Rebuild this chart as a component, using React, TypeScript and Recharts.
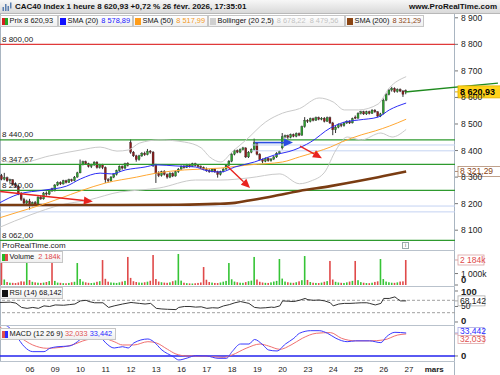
import React from 'react';
import { ComposedChart, Bar, Line, XAxis, YAxis, ReferenceLine } from 'recharts';

const FONT = '"Liberation Sans", Arial, sans-serif';
const BARS_PER_DAY = 9;
const FIRST_BAR = -1;
const X_DOMAIN: [number, number] = [-1.67, 160.4];

// hourly candles [open, high, low, close] - 4 févr. 17h to 26 févr. 17h
const candles: number[][] = [
  [8305, 8312, 8288, 8292],
  // 05
  [8292, 8316, 8288, 8298], [8298, 8302, 8282, 8286], [8286, 8294, 8278, 8290], [8290, 8292, 8268, 8272], [8272, 8280, 8262, 8266],
  [8266, 8270, 8232, 8238], [8238, 8244, 8210, 8216], [8216, 8222, 8196, 8202], [8202, 8215, 8195, 8210],
  // 06
  [8210, 8218, 8178, 8196], [8196, 8208, 8190, 8204], [8204, 8210, 8192, 8198], [8198, 8228, 8195, 8224], [8224, 8230, 8214, 8218],
  [8218, 8244, 8215, 8240], [8240, 8246, 8230, 8236], [8236, 8254, 8232, 8252], [8256, 8260, 8244, 8248],
  // 09
  [8248, 8274, 8246, 8270], [8270, 8284, 8266, 8280], [8280, 8284, 8270, 8274], [8274, 8290, 8272, 8286], [8286, 8290, 8276, 8280],
  [8280, 8294, 8278, 8290], [8290, 8294, 8282, 8286], [8286, 8304, 8284, 8300], [8300, 8320, 8298, 8316],
  // 10
  [8316, 8366, 8314, 8348], [8348, 8362, 8344, 8358], [8358, 8362, 8346, 8350], [8350, 8354, 8336, 8340], [8340, 8350, 8334, 8346],
  [8346, 8360, 8342, 8356], [8356, 8360, 8332, 8336], [8336, 8350, 8332, 8346], [8346, 8350, 8330, 8336],
  // 11
  [8336, 8340, 8278, 8290], [8290, 8296, 8280, 8286], [8286, 8304, 8282, 8300], [8300, 8314, 8296, 8310], [8310, 8328, 8306, 8324],
  [8324, 8344, 8320, 8340], [8340, 8344, 8328, 8334], [8334, 8354, 8330, 8350], [8352, 8356, 8340, 8344],
  // 12
  [8430, 8442, 8388, 8394], [8394, 8398, 8376, 8380], [8380, 8384, 8358, 8366], [8366, 8384, 8362, 8380], [8380, 8394, 8376, 8390],
  [8390, 8396, 8380, 8384], [8384, 8406, 8382, 8398], [8398, 8402, 8388, 8394], [8394, 8398, 8338, 8344],
  // 13
  [8344, 8350, 8278, 8314], [8314, 8322, 8300, 8306], [8306, 8324, 8302, 8320], [8320, 8326, 8306, 8310], [8310, 8314, 8294, 8300],
  [8300, 8318, 8296, 8314], [8314, 8318, 8300, 8304], [8304, 8324, 8302, 8320], [8320, 8334, 8316, 8330],
  // 16
  [8330, 8344, 8328, 8340], [8340, 8346, 8332, 8336], [8336, 8350, 8334, 8346], [8346, 8350, 8336, 8340], [8340, 8354, 8338, 8350],
  [8350, 8354, 8340, 8344], [8344, 8348, 8336, 8340], [8340, 8344, 8332, 8336], [8336, 8340, 8326, 8330],
  // 17
  [8330, 8336, 8320, 8324], [8324, 8330, 8316, 8320], [8320, 8334, 8318, 8330], [8330, 8334, 8316, 8320], [8320, 8324, 8298, 8310],
  [8310, 8324, 8306, 8320], [8320, 8334, 8318, 8330], [8330, 8348, 8328, 8345], [8345, 8364, 8342, 8360],
  // 18
  [8360, 8390, 8356, 8386], [8386, 8404, 8382, 8400], [8400, 8404, 8390, 8394], [8394, 8408, 8390, 8404], [8404, 8414, 8400, 8410],
  [8410, 8412, 8372, 8376], [8376, 8398, 8372, 8394], [8394, 8408, 8390, 8404], [8404, 8445, 8400, 8430],
  // 19
  [8426, 8430, 8382, 8386], [8386, 8390, 8362, 8366], [8366, 8370, 8352, 8360], [8360, 8374, 8356, 8370], [8370, 8374, 8358, 8362],
  [8362, 8372, 8358, 8368], [8368, 8380, 8364, 8376], [8376, 8394, 8372, 8390], [8390, 8400, 8386, 8396],
  // 20
  [8410, 8466, 8404, 8452], [8452, 8460, 8446, 8456], [8456, 8460, 8444, 8450], [8450, 8464, 8446, 8460], [8460, 8464, 8450, 8454],
  [8454, 8468, 8450, 8464], [8464, 8468, 8454, 8458], [8458, 8494, 8456, 8490], [8490, 8526, 8486, 8514],
  // 23
  [8514, 8518, 8504, 8510], [8510, 8524, 8506, 8520], [8520, 8524, 8510, 8514], [8514, 8528, 8512, 8524], [8524, 8528, 8514, 8518],
  [8518, 8526, 8514, 8522], [8522, 8526, 8506, 8510], [8510, 8528, 8508, 8524], [8524, 8528, 8500, 8504],
  // 24
  [8504, 8508, 8458, 8478], [8478, 8492, 8466, 8488], [8488, 8502, 8484, 8498], [8498, 8502, 8488, 8494], [8494, 8508, 8490, 8504],
  [8504, 8514, 8500, 8510], [8510, 8514, 8500, 8504], [8504, 8524, 8502, 8520], [8526, 8532, 8518, 8522],
  // 25
  [8522, 8544, 8520, 8540], [8540, 8550, 8536, 8546], [8546, 8550, 8534, 8538], [8538, 8550, 8534, 8546], [8546, 8550, 8536, 8540],
  [8540, 8556, 8538, 8552], [8552, 8556, 8542, 8546], [8546, 8548, 8526, 8530], [8530, 8542, 8526, 8538],
  // 26
  [8540, 8596, 8536, 8590], [8590, 8616, 8586, 8612], [8612, 8632, 8608, 8628], [8628, 8640, 8622, 8634], [8634, 8638, 8618, 8622],
  [8622, 8634, 8618, 8630], [8630, 8634, 8620, 8624], [8624, 8628, 8602, 8612], [8626, 8630, 8612, 8620.93],
];

// volume in thousands, same bars
const volumes: number[] = [
  2000,
  480, 260, 200, 190, 170, 220, 320, 300, 2000,
  430, 280, 230, 200, 180, 210, 260, 340, 2000,
  360, 210, 190, 160, 150, 180, 240, 280, 1920,
  520, 300, 230, 190, 170, 200, 280, 330, 2180,
  540, 290, 220, 200, 180, 230, 300, 360, 2450,
  620, 330, 260, 220, 200, 240, 290, 370, 2620,
  520, 300, 240, 210, 190, 230, 330, 400, 2710,
  380, 200, 160, 140, 130, 150, 180, 220, 1570,
  460, 260, 210, 180, 170, 220, 290, 360, 1920,
  500, 300, 240, 200, 190, 250, 330, 380, 2450,
  480, 280, 220, 190, 180, 230, 300, 360, 2270,
  560, 300, 240, 200, 190, 240, 320, 420, 2530,
  440, 260, 200, 180, 170, 210, 280, 340, 2100,
  480, 280, 220, 190, 180, 230, 300, 360, 2100,
  420, 250, 200, 170, 160, 200, 270, 320, 2270,
  520, 300, 240, 200, 190, 230, 300, 320, 2184,
];

const dayLabels = ['06', '09', '10', '11', '12', '13', '16', '17', '18', '19', '20', '23', '24', '25', '26', '27', 'mars'];
const priceTicks = [8100, 8200, 8300, 8400, 8500, 8600, 8700, 8800, 8900];

// indicator lines as [bar, value]
const sma20 = [[-2, 8202], [5, 8236], [14, 8251], [22, 8266], [27, 8293], [34, 8315], [38, 8312], [43, 8327], [50, 8338], [54, 8346],
  [61, 8342], [68, 8338], [71, 8327], [77, 8319], [82, 8338], [89, 8357], [96, 8383], [103, 8402], [109, 8432], [116, 8485],
  [121, 8507], [126, 8515], [133, 8526], [137, 8553], [143, 8578.89]];
const sma50 = [[-2, 8146], [5, 8169], [13, 8195], [20, 8221], [27, 8248], [36, 8278], [47, 8300], [54, 8315], [64, 8327], [77, 8334],
  [87, 8346], [99, 8357], [105, 8376], [111, 8395], [116, 8413], [120, 8432], [127, 8459], [132, 8474], [137, 8492], [143, 8517.99]];
const sma200 = [[-2, 8195], [20, 8195], [40, 8195], [62, 8196], [75, 8199], [82, 8203], [87, 8212], [96, 8229], [105, 8248],
  [116, 8266], [126, 8285], [135, 8304], [143, 8321.29]];
const bollUpper = [[-2, 8364], [5, 8353], [16, 8380], [27, 8402], [34, 8413], [40, 8398], [44, 8402], [48, 8428], [55, 8440],
  [64, 8432], [70, 8410], [73, 8376], [77, 8357], [81, 8395], [86, 8440], [93, 8508], [99, 8541], [105, 8558], [112, 8598],
  [117, 8583], [121, 8553], [126, 8553], [133, 8575], [137, 8636], [143, 8678.22]];
const bollLower = [[-2, 8110], [9, 8157], [20, 8195], [30, 8214], [41, 8244], [48, 8251], [55, 8259], [68, 8289], [77, 8289],
  [87, 8297], [98, 8312], [105, 8275], [109, 8285], [114, 8319], [118, 8402], [122, 8451], [127, 8440], [134, 8466], [138, 8451],
  [143, 8479.56]];
const rsi = [[-2, 63], [2, 64], [4, 61], [6, 47], [8, 44], [10, 47], [12, 44], [14, 52], [16, 50], [18, 55], [21, 54], [23, 56],
  [25, 58], [27, 68], [29, 70], [30, 66], [32, 62], [35, 62], [37, 47], [39, 52], [42, 58], [45, 63], [46, 62], [48, 60], [50, 58],
  [52, 60], [54, 44], [56, 42], [58, 41], [61, 40], [62, 47], [64, 50], [66, 50], [68, 48], [70, 49], [72, 44], [74, 46], [76, 45],
  [78, 52], [80, 56], [82, 62], [84, 66], [86, 62], [87, 60], [89, 47], [91, 45], [93, 46], [95, 48], [96, 47], [98, 52], [99, 68],
  [101, 67], [103, 66], [105, 70], [107, 76], [108, 72], [110, 70], [112, 71], [114, 68], [116, 62], [117, 52], [119, 58], [121, 60],
  [123, 60], [125, 61], [127, 62], [129, 62], [130, 60], [132, 55], [134, 60], [135, 76], [137, 76], [139, 81], [140, 74], [141, 68],
  [143, 68.142]];
const macd = [[-2, 48], [2, 40], [4, 30], [7, 13.5], [10, 6.3], [14, 6.3], [16, 11], [19, 13.5], [23, 14.5], [26, 21], [28, 28],
  [31, 34], [34, 28], [36, 19], [39, 11.6], [42, 13.5], [44, 11.6], [46, 19], [51, 24.7], [53, 21], [56, 8.7], [60, -1], [62, -5.8],
  [65, -3], [68, 0.5], [72, 0], [76, -3.4], [79, -3.4], [81, 6.3], [84, 17.4], [87, 17.4], [89, 24], [92, 16], [94, 8.7], [97, 7.3],
  [100, 17.4], [103, 25.7], [105, 33], [109, 36.8], [112, 36.8], [115, 33], [118, 25.7], [122, 20.8], [125, 22], [130, 22],
  [134, 19.4], [136, 28], [139, 34.4], [143, 33.442]];
const macdSignal = [[-2, 42], [5, 28], [10, 16], [15, 11.2], [20, 12.6], [24, 16], [29, 23.3], [33, 25.7], [35, 25.7], [39, 20.8],
  [42, 16], [46, 16], [51, 20.8], [54, 19], [58, 9.7], [61, 2.9], [65, 0], [70, 0], [74, -1], [78, -2], [81, 1.5], [86, 11.2],
  [91, 17.4], [94, 14.5], [98, 9.7], [102, 16], [106, 25.7], [111, 33], [116, 34], [120, 25.7], [125, 22], [130, 22], [135, 23.3],
  [140, 30.5], [143, 32.033]];

// drawn levels and arrows
const greenLevels = [8440, 8347.67, 8250, 8062];
const redLevels = [8800];
const blueLevels = [8191, 8169];
const blueLevelsLate = [8421, 8399];
const redArrows = [
  [[-1.6, 8246], [31.4, 8208]],
  [[79.2, 8342], [87.4, 8259]],
  [[105.2, 8417], [113, 8371]],
];
const blueArrow = [[89.1, 8430], [102.7, 8430]];
const trendLine = [[142.6, 8620.5], [175.7, 8654]];

const fr = (v: number, d = 0) => {
  const [a, b] = v.toFixed(d).split('.');
  const int = a.replace(/\B(?=(\d{3})+(?!\d))/g, ' ');
  return b ? `${int},${b}` : int;
};
const pts = (a: number[][]) => a.map(([i, v]) => ({ i, v }));

const Candle = (p: any) => {
  const { x, y, width, height, payload } = p;
  if (height == null || isNaN(y)) return null;
  const { o, h, l, c } = payload;
  const cx = x + width / 2;
  const span = h - l || 1;
  const yOf = (v: number) => y + ((h - v) / span) * height;
  const top = yOf(Math.max(o, c));
  const bot = yOf(Math.min(o, c));
  const up = c >= o;
  return (
    <g>
      <line x1={cx} x2={cx} y1={y} y2={y + height} stroke="#1a1a1a" strokeWidth={0.9} />
      <rect x={cx - 1} y={top} width={2} height={Math.max(bot - top, 1)} fill={up ? '#2f9e2f' : '#8b1c1c'} stroke="#222" strokeWidth={0.3} />
    </g>
  );
};

const VolBar = (p: any) => {
  const { x, y, width, height, payload } = p;
  if (height == null || isNaN(y)) return null;
  const cx = x + width / 2;
  return <rect x={cx - 0.8} y={y} width={1.6} height={Math.max(height, 0)} fill={payload.c >= payload.o ? '#36c436' : '#e04a4a'} />;
};

const arrowShape = (color: string, w = 1.4) => (p: any) => {
  const { x1, y1, x2, y2 } = p;
  if (x1 == null) return <g />;
  const a = Math.atan2(y2 - y1, x2 - x1);
  const L = 9, W = 4;
  const bx = x2 - L * Math.cos(a), by = y2 - L * Math.sin(a);
  const pts2 = `${x2},${y2} ${bx - W * Math.sin(a)},${by + W * Math.cos(a)} ${bx + W * Math.sin(a)},${by - W * Math.cos(a)}`;
  return (
    <g>
      <line x1={x1} y1={y1} x2={bx} y2={by} stroke={color} strokeWidth={w} />
      <polygon points={pts2} fill={color} />
    </g>
  );
};

const leftLabel = (text: string) => (p: any) => {
  const vb = p.viewBox || {};
  return (
    <text x={(vb.x ?? 0) + 2} y={(vb.y ?? 0) - 2.5} fontSize={8} fill="#222" fontFamily={FONT}>{text}</text>
  );
};

const badge = (text: string, o: { color: string; bg: string; border: string; bold?: boolean; dy?: number; w?: number; h?: number; fs?: number }) => (p: any) => {
  const vb = p.viewBox || {};
  const x0 = (vb.x ?? 0) + (vb.width ?? 0);
  const yv = vb.y ?? 0;
  const yc = yv + (o.dy ?? 0);
  const w = o.w ?? 42;
  const h = o.h ?? 10;
  return (
    <g>
      <line x1={x0} x2={x0 + 3} y1={yv} y2={yv} stroke={o.border} />
      <rect x={x0 + 3} y={yc - h / 2} width={w} height={h} fill={o.bg} stroke={o.border} strokeWidth={0.8} />
      <text x={x0 + 5} y={yc + 3} fontSize={o.fs ?? 8.5} fontWeight={o.bold ? 700 : 400} fill={o.color} fontFamily={FONT}>{text}</text>
    </g>
  );
};

const makeTick = (fmt: (v: number) => string, bold: number[] = [], shift: Record<number, number> = {}) => (p: any) => {
  const v = p.payload.value;
  const b = bold.includes(v);
  return (
    <text x={p.x} y={p.y + (shift[v] ?? 0)} dy={3} textAnchor="start" fontSize={b ? 9.5 : 8.5} fontWeight={b ? 700 : 400} fill="#222" fontFamily={FONT}>
      {fmt(v)}
    </text>
  );
};

const DateTick = (p: any) => {
  const k = Math.round(p.payload.value / BARS_PER_DAY) - 1;
  const label = dayLabels[k] ?? '';
  return (
    <text x={p.x} y={p.y} dy={10.5} textAnchor="middle" fontSize={8} fontWeight={label === 'mars' ? 700 : 400} fill="#222" fontFamily={FONT}>
      {label}
    </text>
  );
};

const LegendBox = ({ left, top, width, icon, children }: any) => (
  <div style={{ position: 'absolute', left, top, width, height: 10, border: '1px solid #c6c6c6', background: 'linear-gradient(#ffffff,#efefef)', fontSize: 7.4, lineHeight: '10px', whiteSpace: 'nowrap', color: '#111', overflow: 'hidden' }}>
    <span style={{ position: 'absolute', left: 1, top: 1.5, width: 6, height: 7, background: icon }} />
    <span style={{ position: 'absolute', left: 8.5, top: 0 }}>{children}</span>
  </div>
);

const M = { top: 0, right: 0, bottom: 0, left: 0 };

export default function App() {
  const data = candles.map(([o, h, l, c], k) => ({ i: k + FIRST_BAR, o, h, l, c, hl: [l, h], v: volumes[k] }));
  const dayTicks = dayLabels.map((_, k) => (k + 1) * BARS_PER_DAY);
  const lastVol = volumes[volumes.length - 1];

  return (
    <div style={{ position: 'absolute', left: 0, top: 0, width: 500, height: 375, background: '#fff', overflow: 'hidden', fontFamily: FONT }}>
      <style>{`.recharts-surface, .recharts-wrapper { overflow: visible !important; }`}</style>
      {/* title bar */}
      <div style={{ position: 'absolute', left: 0, top: 0, width: 500, height: 13, background: 'linear-gradient(#f7f7f7,#d9d9d9)', borderBottom: '1px solid #b8b8b8' }}>
        <svg style={{ position: 'absolute', left: 2, top: 2 }} width={10} height={10}>
          <rect x={0.5} y={5} width={1.5} height={4} fill="#5a7fb0" />
          <rect x={3} y={2} width={1.5} height={7} fill="#5a7fb0" />
          <rect x={5.5} y={4} width={1.5} height={5} fill="#5a7fb0" />
          <rect x={8} y={0.5} width={1.5} height={6} fill="#5a7fb0" />
        </svg>
        <span style={{ position: 'absolute', left: 15, top: 1, fontSize: 8, fontWeight: 700, color: '#111', whiteSpace: 'nowrap', lineHeight: '11px' }}>
          CAC40 Index 1 heure 8 620,93 +0,72 % 26 févr. 2026, 17:35:01
        </span>
        <span style={{ position: 'absolute', right: 3, top: 1, fontSize: 8, fontWeight: 700, color: '#111', whiteSpace: 'nowrap', lineHeight: '11px' }}>
          www.ProRealTime.com
        </span>
      </div>

      {/* frame lines */}
      <div style={{ position: 'absolute', left: 0, top: 14, width: 1, height: 347, background: '#a9b5c1' }} />
      <div style={{ position: 'absolute', left: 454, top: 14, width: 1, height: 361, background: '#a9b5c1' }} />
      {[250, 286, 325, 361].map((y) => (
        <div key={y} style={{ position: 'absolute', left: 0, top: y, width: 455, height: 1, background: '#b9c2cc' }} />
      ))}

      {/* price panel */}
      <div style={{ position: 'absolute', left: 0, top: 14 }}>
        <ComposedChart width={500} height={229} data={data} margin={M}>
          <XAxis dataKey="i" type="number" domain={X_DOMAIN} allowDataOverflow hide />
          <YAxis orientation="right" width={45} domain={[8051.8, 8914.3]} allowDataOverflow ticks={priceTicks} interval={0} axisLine={false}
            tickLine={{ stroke: '#777' }} tickSize={3} tickMargin={3} tick={makeTick((v) => fr(v))} />
          {redLevels.map((v) => (
            <ReferenceLine key={v} y={v} stroke="#e03a3a" strokeWidth={1.2} label={leftLabel(fr(v, 2))} />
          ))}
          {blueLevels.map((v) => (
            <ReferenceLine key={v} y={v} stroke="#c4d3f2" strokeWidth={1} />
          ))}
          {blueLevelsLate.map((v) => (
            <ReferenceLine key={v} segment={[{ x: 88, y: v }, { x: X_DOMAIN[1], y: v }]} stroke="#c4d3f2" strokeWidth={1} />
          ))}
          {greenLevels.map((v) => (
            <ReferenceLine key={v} y={v} stroke="#2e9a2e" strokeWidth={1.3} label={leftLabel(fr(v, 2))} />
          ))}
          <Line data={pts(bollUpper)} dataKey="v" type="monotone" stroke="#cacaca" strokeWidth={1} dot={false} isAnimationActive={false} />
          <Line data={pts(bollLower)} dataKey="v" type="monotone" stroke="#cacaca" strokeWidth={1} dot={false} isAnimationActive={false} />
          <Line data={pts(sma200)} dataKey="v" type="monotone" stroke="#7a3c12" strokeWidth={2.6} dot={false} isAnimationActive={false} />
          <Line data={pts(sma50)} dataKey="v" type="monotone" stroke="#ffa834" strokeWidth={1} dot={false} isAnimationActive={false} />
          <Line data={pts(sma20)} dataKey="v" type="monotone" stroke="#2d2df5" strokeWidth={1} dot={false} isAnimationActive={false} />
          <Bar dataKey="hl" barSize={2} shape={Candle} isAnimationActive={false} />
          {redArrows.map((s, k) => (
            <ReferenceLine key={k} segment={[{ x: s[0][0], y: s[0][1] }, { x: s[1][0], y: s[1][1] }]} ifOverflow="visible" shape={arrowShape('#e8231f')} />
          ))}
          <ReferenceLine segment={[{ x: blueArrow[0][0], y: blueArrow[0][1] }, { x: blueArrow[1][0], y: blueArrow[1][1] }]} ifOverflow="visible" shape={arrowShape('#2a4de0', 1.6)} />
          <ReferenceLine segment={[{ x: trendLine[0][0], y: trendLine[0][1] }, { x: trendLine[1][0], y: trendLine[1][1] }]} ifOverflow="visible" stroke="#1f8a1f" strokeWidth={1.4} />
          <ReferenceLine y={8321.29} stroke="none" ifOverflow="visible" label={badge(fr(8321.29, 2), { color: '#8b4513', bg: '#fff', border: '#b08a70', w: 43 })} />
          <ReferenceLine y={8620.93} stroke="none" ifOverflow="visible" label={badge(fr(8620.93, 2), { color: '#000', bg: '#ffd21a', border: '#e0b000', bold: true, w: 45, h: 12, fs: 9 })} />
        </ComposedChart>
      </div>

      {/* price legend */}
      <LegendBox left={0} top={15} width={56} icon="linear-gradient(90deg,#d42020 50%,#25a825 50%)">Prix 8 620,93</LegendBox>
      <LegendBox left={58} top={15} width={73} icon="#1010ff">SMA (20)<span style={{ color: '#1a1aff', marginLeft: 3 }}>8 578,89</span></LegendBox>
      <LegendBox left={133} top={15} width={73} icon="#ff9d1a">SMA (50)<span style={{ color: '#f39a1e', marginLeft: 3 }}>8 517,99</span></LegendBox>
      <LegendBox left={208} top={15} width={135} icon="#cfcfcf">Bollinger (20 2,5)<span style={{ color: '#c2c2c2', marginLeft: 3 }}>8 678,22&nbsp;&nbsp;8 479,56</span></LegendBox>
      <LegendBox left={345} top={15} width={77} icon="#8b4513">SMA (200)<span style={{ color: '#8b4513', marginLeft: 3 }}>8 321,29</span></LegendBox>

      <div style={{ position: 'absolute', left: 2, top: 242, fontSize: 8, color: '#222', lineHeight: '8px' }}>ProRealTime.com</div>
      <div style={{ position: 'absolute', left: 402, top: 242, width: 5, height: 5, border: '1px solid #9aa', fontSize: 5, lineHeight: '5px', textAlign: 'center', color: '#555' }}>i</div>

      {/* volume panel */}
      <div style={{ position: 'absolute', left: 0, top: 251 }}>
        <ComposedChart width={500} height={34} data={data} margin={M}>
          <XAxis dataKey="i" type="number" domain={X_DOMAIN} allowDataOverflow hide />
          <YAxis orientation="right" width={45} domain={[0, 2970]} allowDataOverflow ticks={[0, 1000]} interval={0} axisLine={false}
            tickLine={{ stroke: '#777' }} tickSize={3} tickMargin={3} tick={makeTick((v) => (v === 0 ? '0' : `${fr(v)}k`), [0], { 0: -5 })} />
          <Bar dataKey="v" barSize={2} shape={VolBar} isAnimationActive={false} />
          <ReferenceLine y={lastVol} stroke="none" ifOverflow="visible" label={badge(`${fr(lastVol)}k`, { color: '#e04a4a', bg: '#fff', border: '#d9a0a0', w: 26 })} />
        </ComposedChart>
      </div>
      <LegendBox left={0} top={251} width={61} icon="linear-gradient(90deg,#25b825 50%,#e04a4a 50%)">Volume <span style={{ color: '#e04a4a', marginLeft: 2 }}>2 184k</span></LegendBox>

      {/* RSI panel */}
      <div style={{ position: 'absolute', left: 0, top: 287 }}>
        <ComposedChart width={500} height={38} data={data} margin={M}>
          <XAxis dataKey="i" type="number" domain={X_DOMAIN} allowDataOverflow hide />
          <YAxis orientation="right" width={45} domain={[-9.68, 112.9]} allowDataOverflow ticks={[0, 50, 100]} interval={0} axisLine={false}
            tickLine={{ stroke: '#777' }} tickSize={3} tickMargin={3} tick={makeTick((v) => String(v), [0, 100], { 0: -1, 100: 1 })} />
          <ReferenceLine y={70} stroke="#a0a0a0" strokeDasharray="3 2" />
          <ReferenceLine y={30} stroke="#a0a0a0" strokeDasharray="3 2" />
          <Line data={pts(rsi)} dataKey="v" type="linear" stroke="#333" strokeWidth={1} dot={false} isAnimationActive={false} />
          <ReferenceLine y={68.142} stroke="none" ifOverflow="visible" label={badge('68,142', { color: '#222', bg: '#fff', border: '#aaa', w: 27 })} />
        </ComposedChart>
      </div>
      <LegendBox left={0} top={287} width={61} icon="#111">RSI (14) 68,142</LegendBox>

      {/* MACD panel + date axis */}
      <div style={{ position: 'absolute', left: 0, top: 326 }}>
        <ComposedChart width={500} height={49} data={data} margin={M}>
          <XAxis dataKey="i" type="number" domain={X_DOMAIN} allowDataOverflow ticks={dayTicks} interval={0} height={14}
            axisLine={false} tickLine={false} tickSize={0} tickMargin={0} tick={DateTick} />
          <YAxis orientation="right" width={45} domain={[-7.3, 43.6]} allowDataOverflow ticks={[0]} interval={0} axisLine={false}
            tickLine={{ stroke: '#777' }} tickSize={3} tickMargin={3} tick={makeTick((v) => String(v), [0])} />
          <ReferenceLine y={0} stroke="#2323ee" strokeWidth={1.3} />
          <Line data={pts(macdSignal)} dataKey="v" type="monotone" stroke="#f07070" strokeWidth={1} dot={false} isAnimationActive={false} />
          <Line data={pts(macd)} dataKey="v" type="monotone" stroke="#3a3aff" strokeWidth={1} dot={false} isAnimationActive={false} />
          <ReferenceLine y={33.442} stroke="none" ifOverflow="visible" label={badge('33,442', { color: '#2a2aff', bg: '#fff', border: '#a8a8e0', w: 26, h: 8, dy: -1.5 })} />
          <ReferenceLine y={32.033} stroke="none" ifOverflow="visible" label={badge('32,033', { color: '#e05050', bg: '#fff', border: '#e0a8a8', w: 26, h: 8, dy: 5.5 })} />
        </ComposedChart>
      </div>
      <LegendBox left={0} top={328} width={114} icon="linear-gradient(90deg,#e05050 50%,#2a2aff 50%)">
        MACD (12 26 9) <span style={{ color: '#e05050' }}>32,033</span> <span style={{ color: '#2a2aff' }}>33,442</span>
      </LegendBox>
    </div>
  );
}
